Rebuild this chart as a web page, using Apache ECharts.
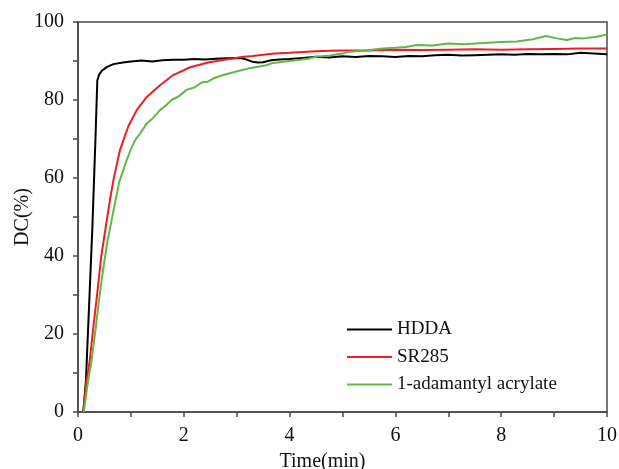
<!DOCTYPE html>
<html>
<head>
<meta charset="utf-8">
<script src="https://cdn.jsdelivr.net/npm/echarts@6/dist/echarts.min.js"></script>
<style>
  html, body { margin: 0; padding: 0; background: #fff; }
  #main { width: 619px; height: 469px; }
</style>
</head>
<body>
<div id="main"></div>
<script>
var seriesNames = ['HDDA', 'SR285', '1-adamantyl acrylate'];

// HDDA
var hddaTime = [0.1, 0.15, 0.19, 0.27, 0.33, 0.365, 0.4, 0.45, 0.55, 0.67, 0.85, 1.0, 1.2, 1.4, 1.6, 1.8, 2.0, 2.2, 2.4, 2.6, 2.8, 3.0, 3.1, 3.2, 3.3, 3.4, 3.5, 3.65, 3.8, 4.0, 4.25, 4.5, 4.75, 5.0, 5.25, 5.5, 5.75, 6.0, 6.25, 6.5, 6.75, 7.0, 7.25, 7.5, 7.75, 8.0, 8.25, 8.5, 8.75, 9.0, 9.25, 9.5, 9.75, 10.0];
var hddaDC = [0, 8, 21, 46.7, 70, 85, 86.5, 87.5, 88.5, 89.2, 89.6, 89.9, 90.1, 89.9, 90.2, 90.3, 90.3, 90.5, 90.4, 90.6, 90.7, 90.8, 90.7, 90.3, 89.8, 89.6, 89.7, 90.2, 90.4, 90.5, 90.8, 91.1, 90.9, 91.2, 91.0, 91.3, 91.2, 91.0, 91.3, 91.2, 91.5, 91.6, 91.4, 91.5, 91.6, 91.7, 91.6, 91.8, 91.7, 91.8, 91.7, 92.1, 91.9, 91.7];

// SR285
var srTime = [0.1, 0.16, 0.22, 0.3, 0.36, 0.44, 0.52, 0.6, 0.67, 0.79, 0.95, 1.11, 1.3, 1.55, 1.8, 2.12, 2.46, 2.7, 2.9, 3.09, 3.3, 3.5, 3.72, 4.0, 4.25, 4.5, 4.75, 5.0, 5.5, 6.0, 6.5, 7.0, 7.5, 8.0, 8.5, 9.0, 9.5, 10.0];
var srDC = [0, 8, 13, 23, 30, 40, 47, 54, 59.5, 67, 73.2, 77.4, 80.8, 83.8, 86.4, 88.4, 89.6, 90.2, 90.6, 91.0, 91.3, 91.6, 91.9, 92.1, 92.3, 92.5, 92.6, 92.7, 92.7, 92.9, 92.8, 92.9, 93.0, 92.9, 93.0, 93.1, 93.2, 93.2];

// 1-adamantyl acrylate
var adaTime = [0.11, 0.19, 0.25, 0.33, 0.4, 0.48, 0.56, 0.64, 0.72, 0.78, 0.92, 1.0, 1.08, 1.18, 1.3, 1.42, 1.55, 1.66, 1.77, 1.9, 2.05, 2.2, 2.34, 2.45, 2.56, 2.72, 2.9, 3.05, 3.22, 3.4, 3.56, 3.66, 3.88, 4.0, 4.19, 4.35, 4.5, 4.76, 5.0, 5.13, 5.4, 5.76, 6.0, 6.2, 6.4, 6.7, 7.0, 7.3, 7.66, 8.0, 8.3, 8.6, 8.85, 9.05, 9.24, 9.4, 9.56, 9.8, 10.0];
var adaDC = [0, 8, 12.5, 21, 29, 37, 44, 49.5, 55, 59, 64.6, 67.4, 69.7, 71.5, 74, 75.4, 77.4, 78.6, 80, 80.9, 82.6, 83.2, 84.5, 84.7, 85.5, 86.3, 87, 87.5, 88.1, 88.5, 88.9, 89.4, 89.8, 90.0, 90.3, 90.6, 91.1, 91.4, 91.9, 92.4, 92.6, 93.2, 93.4, 93.6, 94.1, 94.0, 94.5, 94.3, 94.6, 94.9, 95.0, 95.6, 96.4, 95.8, 95.4, 95.9, 95.8, 96.2, 96.8];

var colors = ['#000000', '#ee1c25', '#62b846'];

function pairs(xs, ys) {
  return xs.map(function (x, i) { return [x, ys[i]]; });
}

var chart = echarts.init(document.getElementById('main'), null, { renderer: 'canvas' });

var fontFam = '"Liberation Serif", "Times New Roman", serif';
var axisCol = '#4a4a4a';

chart.setOption({
  animation: false,
  color: colors,
  textStyle: { fontFamily: fontFam },
  grid: {
    left: 78, right: 12, top: 22, bottom: 57,
    outerBoundsMode: 'none', containLabel: false,
    show: true, borderColor: axisCol, borderWidth: 1.5
  },
  legend: {
    orient: 'vertical',
    left: 342, top: 315,
    icon: 'rect',
    itemWidth: 45, itemHeight: 2, itemGap: 8.5,
    textStyle: { fontSize: 19, color: '#111', fontFamily: fontFam },
    data: seriesNames
  },
  xAxis: {
    type: 'value', min: 0, max: 10, interval: 2,
    name: 'Time(min)', nameLocation: 'middle', nameGap: 40, nameMoveOverlap: false,
    nameTextStyle: { fontSize: 20, color: '#111', padding: [0, 40, 0, 0] },
    axisLine: { lineStyle: { color: axisCol, width: 1.5 } },
    axisTick: { inside: false, length: 5, lineStyle: { color: axisCol, width: 1.5 } },
    minorTick: { show: true, splitNumber: 2, length: 5, lineStyle: { color: axisCol, width: 1.5 } },
    axisLabel: { fontSize: 20, color: '#111', margin: 14 },
    splitLine: { show: false }
  },
  yAxis: {
    type: 'value', min: 0, max: 100, interval: 20,
    name: 'DC(%)', nameLocation: 'middle', nameGap: 45, nameMoveOverlap: false,
    nameTextStyle: { fontSize: 20, color: '#111' },
    axisLine: { show: true, lineStyle: { color: axisCol, width: 1.5 } },
    axisTick: { show: true, inside: false, length: 5, lineStyle: { color: axisCol, width: 1.5 } },
    minorTick: { show: true, splitNumber: 2, length: 5, lineStyle: { color: axisCol, width: 1.5 } },
    axisLabel: { fontSize: 20, color: '#111', margin: 14 },
    splitLine: { show: false }
  },
  series: [
    { name: seriesNames[0], type: 'line', symbol: 'none', data: pairs(hddaTime, hddaDC), lineStyle: { width: 2 } },
    { name: seriesNames[1], type: 'line', symbol: 'none', data: pairs(srTime, srDC), lineStyle: { width: 2 } },
    { name: seriesNames[2], type: 'line', symbol: 'none', data: pairs(adaTime, adaDC), lineStyle: { width: 2 } }
  ]
});
</script>
</body>
</html>
